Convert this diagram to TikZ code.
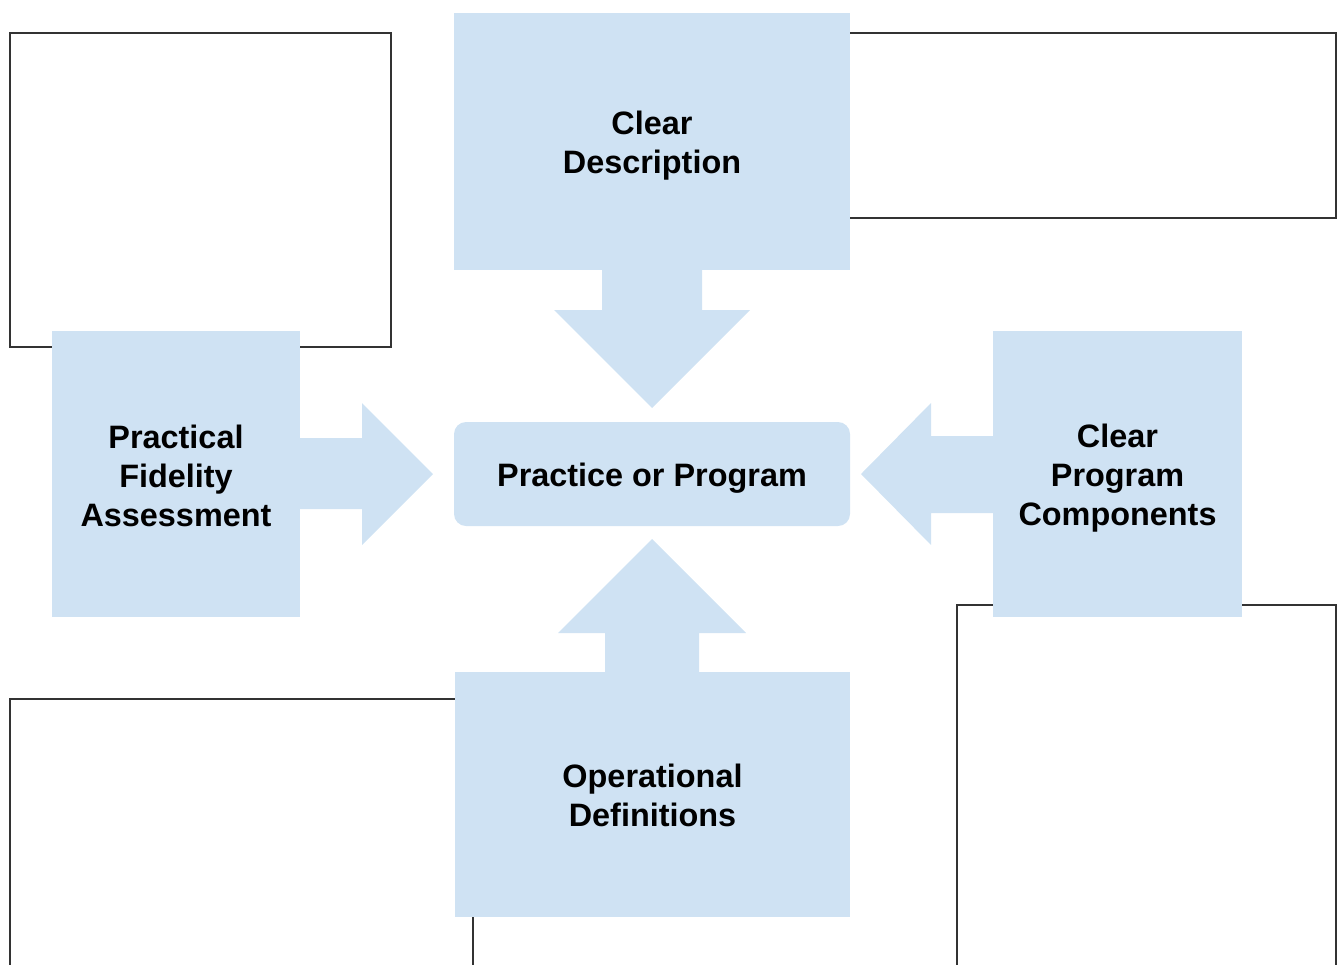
\documentclass[tikz,border=0pt]{standalone}
\usepackage{fontspec}
\setmainfont{Liberation Sans}
\definecolor{boxblue}{HTML}{CFE2F3}
\definecolor{framegray}{HTML}{333333}
\begin{document}
\begin{tikzpicture}[x=1pt,y=-1pt,
blue box/.style = {fill=boxblue, inner sep=0pt},
box text/.style = {align=center, inner sep=0pt, yshift=-4.5pt,
  font=\fontsize{32.4}{39}\selectfont\bfseries},
empty frame/.style = {draw=framegray, line width=1.6pt, fill=white},
block arrow/.style = {fill=boxblue}]
\useasboundingbox (0,0) rectangle (1337,964);
\clip (0,0) rectangle (1337,964);

% empty frames in the corners
\draw[empty frame] (10,33) rectangle (391,347);
\draw[empty frame] (800,33) rectangle (1336,218);
\draw[empty frame] (10,699) rectangle (473,1010);
\draw[empty frame] (957,605) rectangle (1336,1010);

% boxes
\node[blue box, minimum width=396pt, minimum height=257pt,
  label={[box text]center:Clear\\Description}] (desc) at (652,141.5) {};
\node[blue box, minimum width=248pt, minimum height=286pt,
  label={[box text, yshift=2.5pt]center:Practical\\Fidelity\\Assessment}] (fidelity) at (176,474) {};
\node[blue box, minimum width=249pt, minimum height=286pt,
  label={[box text]center:Clear\\Program\\Components}] (components) at (1117.5,474) {};
\node[blue box, minimum width=395pt, minimum height=245pt,
  label={[box text, yshift=3.5pt]center:Operational\\Definitions}] (opdef) at (652.5,794.5) {};
\node[blue box, rounded corners=12pt, minimum width=396pt, minimum height=104pt,
  label={[box text]center:Practice or Program}] (practice) at (652,474) {};

% block arrows
\fill[block arrow] (602,268) -- (702,268) -- (702,310) -- (750,310) -- (652,408) -- (554,310) -- (602,310) -- cycle;
\fill[block arrow] (298,438) -- (362,438) -- (362,403) -- (433,474) -- (362,545) -- (362,509) -- (298,509) -- cycle;
\fill[block arrow] (995,436) -- (931,436) -- (931,403) -- (861,474) -- (931,545) -- (931,513) -- (995,513) -- cycle;
\fill[block arrow] (605,674) -- (605,633) -- (558,633) -- (652,539) -- (746,633) -- (699,633) -- (699,674) -- cycle;
\end{tikzpicture}
\end{document}
